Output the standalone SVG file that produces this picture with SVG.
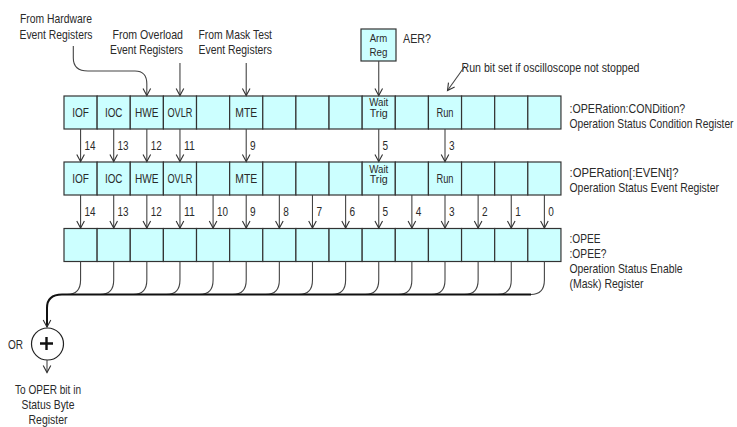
<svg xmlns="http://www.w3.org/2000/svg" width="737" height="427" viewBox="0 0 737 427">
<defs>
<marker id="ah" markerWidth="10" markerHeight="10" viewBox="-8 -5 10 10" refX="0" refY="0" orient="auto" markerUnits="userSpaceOnUse">
<path d="M-7,-3.8 L0,0 L-7,3.8" fill="none" stroke="#333" stroke-width="1.1"/>
</marker>
<style>
text{font-family:"Liberation Sans",Arial,sans-serif;font-size:12.8px;fill:#2a2a2a}
.c{text-anchor:middle}
.s{font-size:11.5px}
.cell{fill:#ccffff;stroke:#333;stroke-width:1.2}
.ln{fill:none;stroke:#444;stroke-width:1.1}
.bus{fill:none;stroke:#111;stroke-width:2}
</style>
</defs>
<rect width="737" height="427" fill="#fff"/>

<g id="labels-top">
<text x="20" y="23" textLength="72" lengthAdjust="spacingAndGlyphs">From Hardware</text>
<text x="19.5" y="38.5" textLength="73" lengthAdjust="spacingAndGlyphs">Event Registers</text>
<text x="112.5" y="38.5" textLength="70.5" lengthAdjust="spacingAndGlyphs">From Overload</text>
<text x="110" y="54" textLength="73" lengthAdjust="spacingAndGlyphs">Event Registers</text>
<text x="198.5" y="38.5" textLength="73.5" lengthAdjust="spacingAndGlyphs">From Mask Test</text>
<text x="198.5" y="54" textLength="73.5" lengthAdjust="spacingAndGlyphs">Event Registers</text>
<text x="403" y="43" textLength="28" lengthAdjust="spacingAndGlyphs">AER?</text>
<text x="461.5" y="72" textLength="178" lengthAdjust="spacingAndGlyphs">Run bit set if oscilloscope not stopped</text>
</g>

<g id="arm-reg">
<rect class="cell" x="361" y="29" width="35" height="32"/>
<text class="c s" x="378.5" y="42" textLength="17.5" lengthAdjust="spacingAndGlyphs">Arm</text>
<text class="c s" x="378.5" y="55.5" textLength="18" lengthAdjust="spacingAndGlyphs">Reg</text>
</g>

<g id="condition-register">
<rect class="cell" x="64" y="96" width="33.13" height="33"/>
<rect class="cell" x="97.13" y="96" width="33.13" height="33"/>
<rect class="cell" x="130.26" y="96" width="33.13" height="33"/>
<rect class="cell" x="163.39" y="96" width="33.13" height="33"/>
<rect class="cell" x="196.52" y="96" width="33.13" height="33"/>
<rect class="cell" x="229.65" y="96" width="33.13" height="33"/>
<rect class="cell" x="262.78" y="96" width="33.13" height="33"/>
<rect class="cell" x="295.91" y="96" width="33.13" height="33"/>
<rect class="cell" x="329.04" y="96" width="33.13" height="33"/>
<rect class="cell" x="362.17" y="96" width="33.13" height="33"/>
<rect class="cell" x="395.3" y="96" width="33.13" height="33"/>
<rect class="cell" x="428.43" y="96" width="33.13" height="33"/>
<rect class="cell" x="461.56" y="96" width="33.13" height="33"/>
<rect class="cell" x="494.69" y="96" width="33.13" height="33"/>
<rect class="cell" x="527.82" y="96" width="33.13" height="33"/>
<text class="c" x="80.57" y="117" textLength="16.7" lengthAdjust="spacingAndGlyphs">IOF</text>
<text class="c" x="113.7" y="117" textLength="17.5" lengthAdjust="spacingAndGlyphs">IOC</text>
<text class="c" x="146.83" y="117" textLength="23.5" lengthAdjust="spacingAndGlyphs">HWE</text>
<text class="c" x="179.96" y="117" textLength="25" lengthAdjust="spacingAndGlyphs">OVLR</text>
<text class="c" x="246.22" y="117" textLength="22" lengthAdjust="spacingAndGlyphs">MTE</text>
<text class="c s" x="378.74" y="106" textLength="19" lengthAdjust="spacingAndGlyphs">Wait</text>
<text class="c s" x="378.74" y="116.5" textLength="18" lengthAdjust="spacingAndGlyphs">Trig</text>
<text class="c" x="445" y="117" textLength="17" lengthAdjust="spacingAndGlyphs">Run</text>
<text x="569.5" y="113" textLength="115.7" lengthAdjust="spacingAndGlyphs">:OPERation:CONDition?</text>
<text x="569.5" y="128" textLength="164" lengthAdjust="spacingAndGlyphs">Operation Status Condition Register</text>
</g>

<g id="event-register">
<rect class="cell" x="64" y="162" width="33.13" height="33"/>
<rect class="cell" x="97.13" y="162" width="33.13" height="33"/>
<rect class="cell" x="130.26" y="162" width="33.13" height="33"/>
<rect class="cell" x="163.39" y="162" width="33.13" height="33"/>
<rect class="cell" x="196.52" y="162" width="33.13" height="33"/>
<rect class="cell" x="229.65" y="162" width="33.13" height="33"/>
<rect class="cell" x="262.78" y="162" width="33.13" height="33"/>
<rect class="cell" x="295.91" y="162" width="33.13" height="33"/>
<rect class="cell" x="329.04" y="162" width="33.13" height="33"/>
<rect class="cell" x="362.17" y="162" width="33.13" height="33"/>
<rect class="cell" x="395.3" y="162" width="33.13" height="33"/>
<rect class="cell" x="428.43" y="162" width="33.13" height="33"/>
<rect class="cell" x="461.56" y="162" width="33.13" height="33"/>
<rect class="cell" x="494.69" y="162" width="33.13" height="33"/>
<rect class="cell" x="527.82" y="162" width="33.13" height="33"/>
<text class="c" x="80.57" y="183" textLength="16.7" lengthAdjust="spacingAndGlyphs">IOF</text>
<text class="c" x="113.7" y="183" textLength="17.5" lengthAdjust="spacingAndGlyphs">IOC</text>
<text class="c" x="146.83" y="183" textLength="23.5" lengthAdjust="spacingAndGlyphs">HWE</text>
<text class="c" x="179.96" y="183" textLength="25" lengthAdjust="spacingAndGlyphs">OVLR</text>
<text class="c" x="246.22" y="183" textLength="22" lengthAdjust="spacingAndGlyphs">MTE</text>
<text class="c s" x="378.74" y="172.5" textLength="19" lengthAdjust="spacingAndGlyphs">Wait</text>
<text class="c s" x="378.74" y="183" textLength="18" lengthAdjust="spacingAndGlyphs">Trig</text>
<text class="c" x="445" y="183" textLength="17" lengthAdjust="spacingAndGlyphs">Run</text>
<text x="569.5" y="176.5" textLength="109" lengthAdjust="spacingAndGlyphs">:OPERation[:EVENt]?</text>
<text x="569.5" y="191.5" textLength="149.5" lengthAdjust="spacingAndGlyphs">Operation Status Event Register</text>
</g>

<g id="enable-register">
<rect class="cell" x="64" y="228.5" width="33.13" height="33"/>
<rect class="cell" x="97.13" y="228.5" width="33.13" height="33"/>
<rect class="cell" x="130.26" y="228.5" width="33.13" height="33"/>
<rect class="cell" x="163.39" y="228.5" width="33.13" height="33"/>
<rect class="cell" x="196.52" y="228.5" width="33.13" height="33"/>
<rect class="cell" x="229.65" y="228.5" width="33.13" height="33"/>
<rect class="cell" x="262.78" y="228.5" width="33.13" height="33"/>
<rect class="cell" x="295.91" y="228.5" width="33.13" height="33"/>
<rect class="cell" x="329.04" y="228.5" width="33.13" height="33"/>
<rect class="cell" x="362.17" y="228.5" width="33.13" height="33"/>
<rect class="cell" x="395.3" y="228.5" width="33.13" height="33"/>
<rect class="cell" x="428.43" y="228.5" width="33.13" height="33"/>
<rect class="cell" x="461.56" y="228.5" width="33.13" height="33"/>
<rect class="cell" x="494.69" y="228.5" width="33.13" height="33"/>
<rect class="cell" x="527.82" y="228.5" width="33.13" height="33"/>
<text x="569.5" y="243" textLength="31" lengthAdjust="spacingAndGlyphs">:OPEE</text>
<text x="569.5" y="258" textLength="37" lengthAdjust="spacingAndGlyphs">:OPEE?</text>
<text x="569.5" y="273" textLength="113" lengthAdjust="spacingAndGlyphs">Operation Status Enable</text>
<text x="569.5" y="288" textLength="74" lengthAdjust="spacingAndGlyphs">(Mask) Register</text>
</g>

<g id="or-gate">
<circle cx="47.5" cy="344" r="16" fill="#fff" stroke="#222" stroke-width="1.2"/>
<path d="M40,343.5 H53 M46.5,337 V350" stroke="#111" stroke-width="2.4" fill="none"/>
<text x="8" y="349" textLength="15" lengthAdjust="spacingAndGlyphs">OR</text>
<text class="c" x="48" y="394" textLength="66" lengthAdjust="spacingAndGlyphs">To OPER bit in</text>
<text class="c" x="48" y="409" textLength="53" lengthAdjust="spacingAndGlyphs">Status Byte</text>
<text class="c" x="48" y="424" textLength="39" lengthAdjust="spacingAndGlyphs">Register</text>
</g>

<g id="connectors">
<path class="ln" d="M73.3,46 V58 C73.3,67 78,71 88,71 H135 C143,71 146.83,76 146.83,84 V95.5" marker-end="url(#ah)"/>
<path class="ln" d="M179.96,63 V95.5" marker-end="url(#ah)"/>
<path class="ln" d="M246.22,63 V95.5" marker-end="url(#ah)"/>
<path class="ln" d="M378.74,61 V95.5" marker-end="url(#ah)"/>
<path class="ln" d="M465,66 L447.5,90.5" marker-end="url(#ah)"/>

<path class="ln" d="M80.57,129 V161.5" marker-end="url(#ah)"/>
<path class="ln" d="M113.7,129 V161.5" marker-end="url(#ah)"/>
<path class="ln" d="M146.83,129 V161.5" marker-end="url(#ah)"/>
<path class="ln" d="M179.96,129 V161.5" marker-end="url(#ah)"/>
<path class="ln" d="M246.22,129 V161.5" marker-end="url(#ah)"/>
<path class="ln" d="M378.74,129 V161.5" marker-end="url(#ah)"/>
<path class="ln" d="M445,129 V161.5" marker-end="url(#ah)"/>
<text x="84.5" y="150" textLength="11" lengthAdjust="spacingAndGlyphs">14</text>
<text x="117.6" y="150" textLength="11" lengthAdjust="spacingAndGlyphs">13</text>
<text x="150.7" y="150" textLength="11" lengthAdjust="spacingAndGlyphs">12</text>
<text x="183.9" y="150" textLength="11" lengthAdjust="spacingAndGlyphs">11</text>
<text x="250.1" y="150" textLength="5.6" lengthAdjust="spacingAndGlyphs">9</text>
<text x="382.6" y="150" textLength="5.6" lengthAdjust="spacingAndGlyphs">5</text>
<text x="448.9" y="150" textLength="5.6" lengthAdjust="spacingAndGlyphs">3</text>

<path class="ln" d="M80.57,195 V228" marker-end="url(#ah)"/>
<path class="ln" d="M113.7,195 V228" marker-end="url(#ah)"/>
<path class="ln" d="M146.83,195 V228" marker-end="url(#ah)"/>
<path class="ln" d="M179.96,195 V228" marker-end="url(#ah)"/>
<path class="ln" d="M213.09,195 V228" marker-end="url(#ah)"/>
<path class="ln" d="M246.22,195 V228" marker-end="url(#ah)"/>
<path class="ln" d="M279.35,195 V228" marker-end="url(#ah)"/>
<path class="ln" d="M312.48,195 V228" marker-end="url(#ah)"/>
<path class="ln" d="M345.61,195 V228" marker-end="url(#ah)"/>
<path class="ln" d="M378.74,195 V228" marker-end="url(#ah)"/>
<path class="ln" d="M411.87,195 V228" marker-end="url(#ah)"/>
<path class="ln" d="M445,195 V228" marker-end="url(#ah)"/>
<path class="ln" d="M478.13,195 V228" marker-end="url(#ah)"/>
<path class="ln" d="M511.26,195 V228" marker-end="url(#ah)"/>
<path class="ln" d="M544.39,195 V228" marker-end="url(#ah)"/>
<text x="84.5" y="216" textLength="11" lengthAdjust="spacingAndGlyphs">14</text>
<text x="117.6" y="216" textLength="11" lengthAdjust="spacingAndGlyphs">13</text>
<text x="150.7" y="216" textLength="11" lengthAdjust="spacingAndGlyphs">12</text>
<text x="183.9" y="216" textLength="11" lengthAdjust="spacingAndGlyphs">11</text>
<text x="217" y="216" textLength="11" lengthAdjust="spacingAndGlyphs">10</text>
<text x="250.1" y="216" textLength="5.6" lengthAdjust="spacingAndGlyphs">9</text>
<text x="283.3" y="216" textLength="5.6" lengthAdjust="spacingAndGlyphs">8</text>
<text x="316.4" y="216" textLength="5.6" lengthAdjust="spacingAndGlyphs">7</text>
<text x="349.5" y="216" textLength="5.6" lengthAdjust="spacingAndGlyphs">6</text>
<text x="382.6" y="216" textLength="5.6" lengthAdjust="spacingAndGlyphs">5</text>
<text x="415.8" y="216" textLength="5.6" lengthAdjust="spacingAndGlyphs">4</text>
<text x="448.9" y="216" textLength="5.6" lengthAdjust="spacingAndGlyphs">3</text>
<text x="482" y="216" textLength="5.6" lengthAdjust="spacingAndGlyphs">2</text>
<text x="515.2" y="216" textLength="5.6" lengthAdjust="spacingAndGlyphs">1</text>
<text x="548.3" y="216" textLength="5.6" lengthAdjust="spacingAndGlyphs">0</text>

<path class="ln" d="M80.57,261.5 V280 C80.57,290 76,294.5 67,294.5"/>
<path class="ln" d="M113.7,261.5 V280 C113.7,290 109.1,294.5 100.1,294.5"/>
<path class="ln" d="M146.83,261.5 V280 C146.83,290 142.2,294.5 133.2,294.5"/>
<path class="ln" d="M179.96,261.5 V280 C179.96,290 175.4,294.5 166.4,294.5"/>
<path class="ln" d="M213.09,261.5 V280 C213.09,290 208.5,294.5 199.5,294.5"/>
<path class="ln" d="M246.22,261.5 V280 C246.22,290 241.6,294.5 232.6,294.5"/>
<path class="ln" d="M279.35,261.5 V280 C279.35,290 274.8,294.5 265.8,294.5"/>
<path class="ln" d="M312.48,261.5 V280 C312.48,290 307.9,294.5 298.9,294.5"/>
<path class="ln" d="M345.61,261.5 V280 C345.61,290 341,294.5 332,294.5"/>
<path class="ln" d="M378.74,261.5 V280 C378.74,290 374.1,294.5 365.1,294.5"/>
<path class="ln" d="M411.87,261.5 V280 C411.87,290 407.3,294.5 398.3,294.5"/>
<path class="ln" d="M445,261.5 V280 C445,290 440.4,294.5 431.4,294.5"/>
<path class="ln" d="M478.13,261.5 V280 C478.13,290 473.5,294.5 464.5,294.5"/>
<path class="ln" d="M511.26,261.5 V280 C511.26,290 506.7,294.5 497.7,294.5"/>
<path class="ln" d="M544.39,261.5 V280 C544.39,290 539.8,294.5 530.8,294.5"/>
<path class="bus" d="M531,294.5 H62 C52,294.5 47,299 47,308 V327" marker-end="url(#ah)"/>
<path class="ln" d="M47,360 V372.5" marker-end="url(#ah)"/>
</g>
</svg>
